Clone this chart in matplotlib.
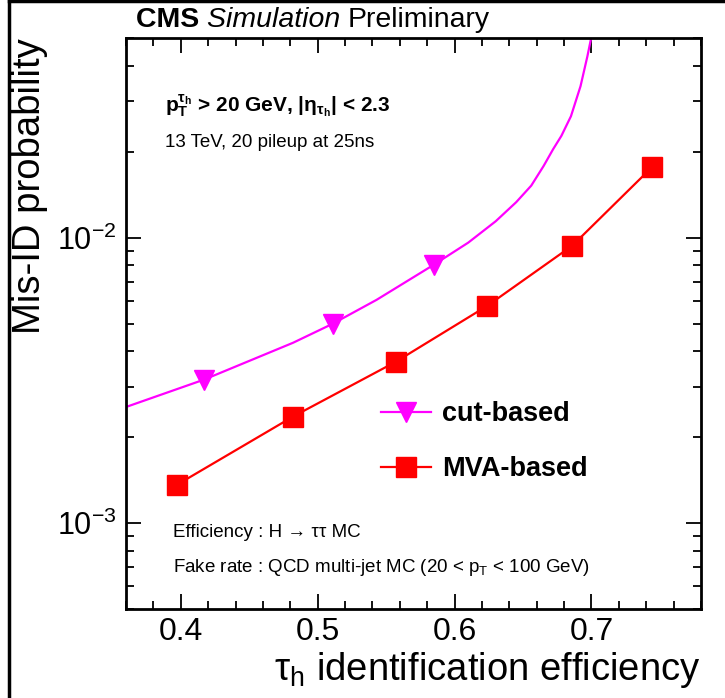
import matplotlib
matplotlib.use("Agg")
import matplotlib.pyplot as plt
from matplotlib.ticker import MultipleLocator, LogLocator, NullFormatter
from matplotlib.lines import Line2D
from matplotlib.transforms import offset_copy

plt.rcParams['font.family'] = ['Liberation Sans', 'DejaVu Sans']
plt.rcParams['mathtext.fontset'] = 'custom'
plt.rcParams['mathtext.rm'] = 'Liberation Sans'
plt.rcParams['mathtext.it'] = 'Liberation Sans:italic'
plt.rcParams['mathtext.bf'] = 'Liberation Sans:bold'
plt.rcParams['mathtext.default'] = 'regular'

# MVA-based working points
mva_eff = [0.397, 0.482, 0.557, 0.624, 0.686, 0.744]
mva_fake = [1.36e-3, 2.36e-3, 3.67e-3, 5.77e-3, 9.37e-3, 1.76e-2]

# cut-based working points (markers)
cut_eff = [0.417, 0.511, 0.585]
cut_fake = [3.18e-3, 4.99e-3, 8.04e-3]

# cut-based scan (continuous curve)
cut_curve_eff = [0.360, 0.417, 0.482, 0.511, 0.543, 0.585, 0.610, 0.630, 0.645, 0.656,
                 0.665, 0.672, 0.678, 0.685, 0.692, 0.697, 0.7005]
cut_curve_fake = [2.55e-3, 3.18e-3, 4.28e-3, 4.99e-3, 6.05e-3, 8.04e-3, 9.6e-3, 1.14e-2, 1.33e-2, 1.52e-2,
                  1.78e-2, 2.04e-2, 2.27e-2, 2.66e-2, 3.39e-2, 4.31e-2, 5.2e-2]

fig = plt.figure(figsize=(7.25, 6.98), dpi=100)
ax = fig.add_axes([126/725, 1-609/698, 575/725, 571/698])

ax.plot(cut_curve_eff, cut_curve_fake, color='#ff00ff', lw=1.6)
ax.plot(cut_eff, cut_fake, 'v', color='#ff00ff', ms=15, mec='#ff00ff')
ax.plot(mva_eff, mva_fake, 's-', color='#ff0000', lw=1.6, ms=14)

ax.set_yscale('log')
ax.set_xlim(0.36, 0.78)
ax.set_ylim(5e-4, 5e-2)

ax.xaxis.set_major_locator(MultipleLocator(0.1))
ax.xaxis.set_minor_locator(MultipleLocator(0.02))
ax.yaxis.set_major_locator(LogLocator(base=10))
ax.yaxis.set_minor_locator(LogLocator(base=10, subs=range(2, 10)))
ax.yaxis.set_minor_formatter(NullFormatter())
ax.tick_params(which='both', direction='in', top=True, right=True, width=1.3)
ax.tick_params(which='major', length=11)
ax.tick_params(which='minor', length=5.5)
ax.tick_params(axis='x', pad=6, labelsize=23)
ax.tick_params(axis='y', pad=7, labelsize=22)
for s in ax.spines.values():
    s.set_linewidth(2)

ax.set_xlabel(r'$\tau_h$ identification efficiency', fontsize=27.5, ha='right', x=1.0, labelpad=2)
ax.set_ylabel('Mis-ID probability', fontsize=27.5, ha='right', y=1.0, labelpad=6)

# CMS label, pieces placed one after another
renderer = fig.canvas.get_renderer()
pieces = [('CMS ', 'bold', 'normal'), ('Simulation ', 'normal', 'italic'), ('Preliminary', 'normal', 'normal')]
trans = ax.transAxes
for txt, weight, style in pieces:
    t = ax.text(0.017, 1.02, txt, transform=trans, fontsize=20.5, fontweight=weight,
                style=style, va='baseline')
    w = t.get_window_extent(renderer=renderer).width
    trans = offset_copy(trans, fig=fig, x=w * 72 / fig.dpi, units='points')

ax.text(0.068, 0.870, r'$\mathbf{p_T^{\tau_h}}$ > 20 GeV, |$\mathbf{\eta_{\tau_h}}$| < 2.3',
        transform=ax.transAxes, fontsize=15, fontweight='bold', va='baseline')
ax.text(0.068, 0.809, '13 TeV, 20 pileup at 25ns', transform=ax.transAxes, fontsize=13.5, va='baseline')
ax.text(0.082, 0.126, 'Efficiency : H \u2192 \u03c4\u03c4 MC', transform=ax.transAxes,
        fontsize=13.5, va='baseline')
ax.text(0.082, 0.065, r'Fake rate : QCD multi-jet MC (20 < $p_T$ < 100 GeV)', transform=ax.transAxes,
        fontsize=13.5, va='baseline')

handles = [Line2D([], [], color='#ff00ff', marker='v', ms=15, lw=1.6),
           Line2D([], [], color='#ff0000', marker='s', ms=14, lw=1.6)]
leg = ax.legend(handles, ['cut-based', 'MVA-based'], loc='center left',
                bbox_to_anchor=(0.443, 0.293), frameon=False, borderpad=0, borderaxespad=0,
                handlelength=1.85, handletextpad=0.4, labelspacing=1.08,
                prop={'size': 19.5, 'weight': 'bold'})

# frame around the canvas
fig.add_artist(Line2D([0.012, 0.012], [0, 1], transform=fig.transFigure, color='black', lw=2.5))
fig.add_artist(Line2D([0.012, 1], [0.998, 0.998], transform=fig.transFigure, color='black', lw=2.5))

fig.savefig('out.png', dpi=100)
